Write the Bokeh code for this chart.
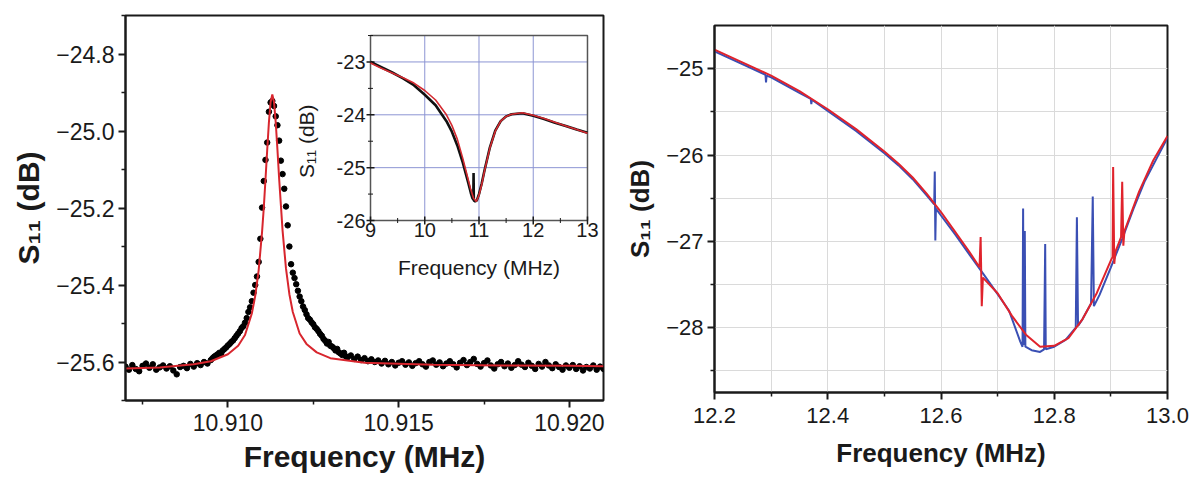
import numpy as np
from bokeh.plotting import figure
from bokeh.models import Range1d, FixedTicker, NumeralTickFormatter, CustomJSTickFormatter
from bokeh.layouts import row
from bokeh.core.properties import value
from bokeh.embed import file_html
from bokeh.resources import INLINE

FONT = "Liberation Sans"

# ---------------- left panel: measured dots + Lorentzian fit ----------------
dots_f_left = np.round(np.arange(10.9070, 10.90945, 0.0001), 5)
dots_s_left = [-25.612, -25.620, -25.608, -25.618, -25.624, -25.610, -25.604, -25.615, -25.606, -25.620,
               -25.614, -25.609, -25.617, -25.611, -25.622, -25.632, -25.613, -25.610, -25.616, -25.605,
               -25.612, -25.603, -25.608, -25.600, -25.604]
dots_f_peak = np.round(np.arange(10.90950, 10.913475, 0.00005), 5)
dots_s_peak = [-25.595, -25.590, -25.586, -25.583, -25.580, -25.576, -25.578, -25.570, -25.566, -25.562,
               -25.557, -25.553, -25.548, -25.544, -25.538, -25.532, -25.526, -25.520, -25.512, -25.507,
               -25.498, -25.486, -25.470, -25.458, -25.442, -25.420, -25.400, -25.378, -25.340, -25.280,
               -25.199, -25.130, -25.075, -25.030, -24.950, -24.926, -24.922, -24.935, -24.962, -24.985,
               -25.025, -25.077, -25.112, -25.150, -25.196, -25.245, -25.300, -25.346, -25.368, -25.382,
               -25.398, -25.415, -25.430, -25.442, -25.456, -25.465, -25.476, -25.486, -25.490, -25.497,
               -25.502, -25.510, -25.514, -25.520, -25.527, -25.532, -25.540, -25.545, -25.552, -25.548,
               -25.558, -25.560, -25.564, -25.570, -25.566, -25.575, -25.578, -25.582, -25.576, -25.585]
dots_f_right = np.round(np.arange(10.9135, 10.92105, 0.0001), 5)
dots_s_right = [-25.588, -25.583, -25.592, -25.586, -25.595, -25.590, -25.598, -25.593, -25.600, -25.596,
                -25.604, -25.597, -25.606, -25.600, -25.609, -25.602, -25.598, -25.607, -25.601, -25.610,
                -25.603, -25.598, -25.606, -25.612, -25.600, -25.596, -25.607, -25.601, -25.611, -25.604,
                -25.598, -25.606, -25.614, -25.602, -25.595, -25.608, -25.600, -25.592, -25.605, -25.612,
                -25.603, -25.596, -25.609, -25.617, -25.606, -25.600, -25.611, -25.604, -25.615, -25.608,
                -25.598, -25.607, -25.613, -25.602, -25.610, -25.618, -25.605, -25.612, -25.600, -25.609,
                -25.616, -25.606, -25.613, -25.620, -25.609, -25.615, -25.608, -25.618, -25.611, -25.622,
                -25.613, -25.617, -25.609, -25.620, -25.612, -25.618]

fit_f = [10.9070, 10.9080, 10.9090, 10.9095, 10.9100, 10.9103, 10.9105, 10.9107, 10.9108, 10.9109,
         10.9110, 10.91105, 10.9111, 10.91115, 10.9112, 10.91125, 10.9113, 10.91135, 10.9114, 10.91145,
         10.9115, 10.9116, 10.9117, 10.9118, 10.9119, 10.9121, 10.9123, 10.9126, 10.9130, 10.9140,
         10.9160, 10.9180, 10.9200, 10.9210]
fit_s = [-25.617, -25.614, -25.606, -25.598, -25.580, -25.558, -25.530, -25.474, -25.428, -25.362,
         -25.262, -25.200, -25.126, -25.050, -24.978, -24.925, -24.905, -24.925, -24.978, -25.048,
         -25.124, -25.258, -25.357, -25.424, -25.470, -25.526, -25.553, -25.575, -25.590, -25.602,
         -25.607, -25.609, -25.610, -25.611]

left_xticks = [10.910, 10.915, 10.920]
left_xminor = [10.9075, 10.9125, 10.9175]
left_yticks = [-25.6, -25.4, -25.2, -25.0, -24.8]
left_yminor = [-25.7, -25.5, -25.3, -25.1, -24.9, -24.7]

# ---------------- inset ----------------
ins_black_f = [9.0, 9.2, 9.4, 9.6, 9.8, 10.0, 10.2, 10.4, 10.5, 10.6, 10.7, 10.8, 10.85, 10.88, 10.895,
               10.90, 10.905, 10.93, 10.96, 11.0, 11.05, 11.1, 11.2, 11.3, 11.4, 11.5, 11.6, 11.8, 12.0,
               12.2, 12.4, 12.6, 12.8, 13.0]
ins_black_s = [-23.00, -23.10, -23.20, -23.31, -23.44, -23.62, -23.82, -24.12, -24.32, -24.58, -24.90,
               -25.28, -25.48, -25.58, -25.60, -25.10, -25.62, -25.64, -25.62, -25.50, -25.30, -25.06,
               -24.62, -24.30, -24.12, -24.03, -23.99, -23.97, -24.02, -24.08, -24.15, -24.21, -24.28, -24.34]
ins_red_f = [9.0, 9.2, 9.4, 9.6, 9.8, 10.0, 10.2, 10.4, 10.5, 10.6, 10.7, 10.8, 10.85, 10.9, 10.95,
             11.0, 11.05, 11.1, 11.2, 11.3, 11.4, 11.5, 11.6, 11.8, 12.0, 12.2, 12.4, 12.6, 12.8, 13.0]
ins_red_s = [-23.02, -23.12, -23.21, -23.30, -23.40, -23.54, -23.72, -24.00, -24.20, -24.46, -24.82,
             -25.22, -25.42, -25.58, -25.64, -25.52, -25.32, -25.07, -24.63, -24.31, -24.12, -24.03,
             -23.99, -23.96, -24.01, -24.07, -24.14, -24.21, -24.28, -24.35]
ins_xticks = [9, 10, 11, 12, 13]
ins_xlabels = ["9", "10", "11", "12", "13"]
ins_xminor = [9.5, 10.5, 11.5, 12.5]
ins_yticks = [-23, -24, -25, -26]
ins_ylabels = ["-23", "-24", "-25", "-26"]
ins_yminor = [-22.5, -23.5, -24.5, -25.5]

# ---------------- right panel ----------------
blue_f = [12.200, 12.250, 12.290, 12.291, 12.292, 12.300, 12.350, 12.370, 12.371, 12.372, 12.400, 12.450,
          12.500, 12.525, 12.550, 12.575, 12.588, 12.589, 12.590, 12.591, 12.600, 12.625, 12.650, 12.675,
          12.700, 12.720, 12.740, 12.744, 12.745, 12.746, 12.748, 12.749, 12.760, 12.775, 12.782, 12.784,
          12.785, 12.800, 12.820, 12.838, 12.840, 12.842, 12.850, 12.865, 12.868, 12.870, 12.880, 12.900,
          12.920, 12.940, 12.960, 12.980, 13.000]
blue_s = [-24.80, -24.95, -25.07, -25.16, -25.08, -25.10, -25.28, -25.35, -25.41, -25.36, -25.49, -25.72,
          -25.98, -26.12, -26.28, -26.47, -26.57, -26.19, -26.99, -26.62, -26.70, -26.92, -27.15, -27.38,
          -27.61, -27.80, -28.16, -28.22, -26.62, -28.20, -26.88, -28.22, -28.26, -28.28, -28.25, -27.03,
          -28.25, -28.22, -28.14, -28.00, -26.72, -27.98, -27.90, -27.72, -26.48, -27.75, -27.62, -27.30,
          -26.97, -26.62, -26.30, -26.05, -25.80]
red_f = [12.200, 12.250, 12.300, 12.350, 12.400, 12.450, 12.500, 12.525, 12.550, 12.575, 12.600, 12.625,
         12.650, 12.668, 12.670, 12.672, 12.674, 12.700, 12.725, 12.750, 12.775, 12.800, 12.825, 12.850,
         12.875, 12.900, 12.903, 12.904, 12.906, 12.908, 12.918, 12.920, 12.922, 12.924, 12.950, 12.975,
         13.000]
red_s = [-24.78, -24.93, -25.08, -25.26, -25.47, -25.70, -25.96, -26.10, -26.26, -26.45, -26.66, -26.89,
         -27.12, -27.30, -26.95, -27.75, -27.42, -27.60, -27.86, -28.08, -28.22, -28.21, -28.12, -27.90,
         -27.60, -27.22, -27.18, -26.14, -27.26, -27.12, -26.95, -26.31, -27.05, -26.88, -26.42, -26.06,
         -25.78]
right_xticks = [12.2, 12.4, 12.6, 12.8, 13.0]
right_xminor = [12.3, 12.5, 12.7, 12.9]
right_yticks = [-28, -27, -26, -25]
right_yminor = [-28.5, -27.5, -26.5, -25.5]

INK = "#1a1a1a"
MINUS_FMT = "return tick.toFixed(%d).replace('-', '\\u2212');"


def style_axes(p, tick_size, title_size):
    for ax in (p.xaxis[0], p.yaxis[0]):
        ax.axis_line_width = 2
        ax.axis_line_color = INK
        ax.major_tick_line_width = 2
        ax.major_tick_line_color = INK
        ax.minor_tick_line_width = 1.5
        ax.minor_tick_line_color = INK
        ax.major_tick_in = 0
        ax.major_tick_out = 7
        ax.minor_tick_in = 0
        ax.minor_tick_out = 4
        ax.major_label_text_font = FONT
        ax.major_label_text_font_size = tick_size
        ax.major_label_text_color = INK
        ax.axis_label_text_font = FONT
        ax.axis_label_text_font_style = "bold"
        ax.axis_label_text_font_size = title_size
        ax.axis_label_text_color = INK
    p.outline_line_color = INK
    p.outline_line_width = 2
    p.outline_line_alpha = 1


# ---------------- figure 1 ----------------
p1 = figure(width=615, height=479, output_backend="svg", toolbar_location=None,
            x_range=Range1d(10.907, 10.921), y_range=Range1d(-25.7, -24.7),
            min_border_left=125, min_border_right=12, min_border_top=15, min_border_bottom=79,
            x_axis_label="Frequency (MHz)", y_axis_label="S\u2081\u2081 (dB)")
p1.xaxis.ticker = FixedTicker(ticks=left_xticks, minor_ticks=left_xminor)
p1.yaxis.ticker = FixedTicker(ticks=left_yticks, minor_ticks=left_yminor)
p1.xaxis.formatter = NumeralTickFormatter(format="0.000")
p1.yaxis.formatter = CustomJSTickFormatter(code=MINUS_FMT % 1)
style_axes(p1, "23px", "30px")
p1.xaxis.major_label_standoff = 6
p1.xaxis.axis_label_standoff = 6
p1.yaxis.major_label_standoff = 4
p1.yaxis.axis_label_standoff = 8
p1.grid.visible = False

p1.scatter(dots_f_left, dots_s_left, size=5.5, color="black")
p1.scatter(dots_f_peak, dots_s_peak, size=5.5, color="black")
p1.scatter(dots_f_right, dots_s_right, size=5.5, color="black")
p1.line(fit_f, fit_s, line_color="#d8262e", line_width=2)

# inset as a sub-coordinate system of the left figure
ins = p1.subplot(x_source=Range1d(9, 13), y_source=Range1d(-26, -22.5),
                 x_target=Range1d(10.914176, 10.920531), y_target=Range1d(-25.2325, -24.752))
ins.quad(left=[9], right=[13], bottom=[-26], top=[-22.5], fill_color="white", line_color=None)
ins.multi_line(xs=[[x, x] for x in ins_xticks[1:-1]], ys=[[-26, -22.5]] * 3,
               line_color="#8c95d3", line_width=1)
ins.multi_line(xs=[[9, 13]] * 3, ys=[[y, y] for y in ins_yticks[:3]],
               line_color="#8c95d3", line_width=1)
ins.quad(left=[9], right=[13], bottom=[-26], top=[-22.5], fill_color=None,
         line_color="#555555", line_width=1.5)
ins.scatter([9] * 4, ins_yticks, marker="dash", size=8, line_color=INK, line_width=1.5)
ins.scatter([9] * 4, ins_yminor, marker="dash", size=5, line_color=INK, line_width=1)
ins.scatter(ins_xticks, [-26] * 5, marker="dash", angle=np.pi / 2, size=8, line_color=INK, line_width=1.5)
ins.scatter(ins_xminor, [-26] * 4, marker="dash", angle=np.pi / 2, size=5, line_color=INK, line_width=1)
ins.line(ins_black_f, ins_black_s, line_color="#111111", line_width=2.6)
ins.line(ins_red_f, ins_red_s, line_color="#d42a30", line_width=1.6)
ins.text(x=[9] * 4, y=ins_yticks, text=ins_ylabels, text_align="right", text_baseline="middle",
         x_offset=-5, text_font=value(FONT), text_font_size="20px", text_color=INK)
ins.text(x=ins_xticks, y=[-26] * 5, text=ins_xlabels, text_align="center", text_baseline="top",
         y_offset=2, text_font=value(FONT), text_font_size="20px", text_color=INK)
ins.text(x=[11], y=[-26], text=["Frequency (MHz)"], text_align="center", text_baseline="middle",
         y_offset=47, text_font=value(FONT), text_font_size="21px", text_color=INK)
ins.text(x=[9], y=[-24.5], text=["S\u2081\u2081 (dB)"], text_align="center", text_baseline="middle",
         x_offset=-64, angle=np.pi / 2, text_font=value(FONT), text_font_size="21px", text_color=INK)

# ---------------- figure 2 ----------------
p2 = figure(width=575, height=461, output_backend="svg", toolbar_location=None, margin=(10, 0, 0, 0),
            x_range=Range1d(12.2, 13.0), y_range=Range1d(-28.75, -24.5),
            min_border_left=99, min_border_right=23, min_border_top=15, min_border_bottom=79,
            x_axis_label="Frequency (MHz)", y_axis_label="S\u2081\u2081 (dB)")
p2.xaxis.ticker = FixedTicker(ticks=right_xticks, minor_ticks=right_xminor)
p2.yaxis.ticker = FixedTicker(ticks=right_yticks, minor_ticks=right_yminor)
p2.xaxis.formatter = NumeralTickFormatter(format="0.0")
p2.yaxis.formatter = CustomJSTickFormatter(code=MINUS_FMT % 0)
style_axes(p2, "22px", "26px")
p2.xaxis.major_label_standoff = 8
p2.xaxis.axis_label_standoff = 12
p2.yaxis.major_label_standoff = 4
p2.yaxis.axis_label_standoff = 8
for g in (p2.xgrid[0], p2.ygrid[0]):
    g.grid_line_color = "#dadada"
    g.grid_line_width = 1
    g.minor_grid_line_color = "#dadada"
    g.minor_grid_line_width = 1

p2.line(blue_f, blue_s, line_color="#3a4fb4", line_width=2)
p2.line(red_f, red_s, line_color="#e0232c", line_width=2)

layout = row(p1, p2)
open("out.html", "w").write(file_html(layout, INLINE))
